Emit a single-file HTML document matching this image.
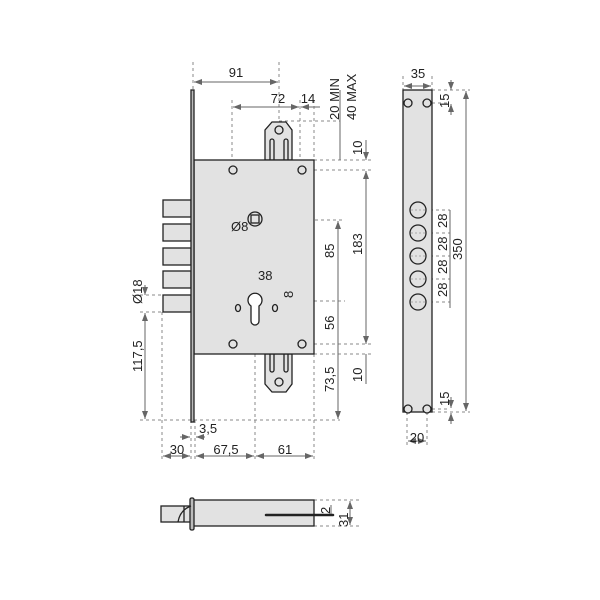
<!DOCTYPE html>
<html><head><style>body{margin:0;background:#fff}svg{display:block}text{font-family:"Liberation Sans",sans-serif;font-size:13px;fill:#222}</style></head>
<body>
<svg width="600" height="600" viewBox="0 0 600 600" xmlns="http://www.w3.org/2000/svg">
<defs>
<marker id="a" viewBox="0 0 8 6" refX="8" refY="3" markerWidth="8" markerHeight="6" orient="auto-start-reverse"><path d="M0,0L8,3L0,6z" fill="#666"/></marker>
</defs>
<g fill="none" stroke="#888" stroke-width="1" stroke-dasharray="3,3">
<line x1="193" y1="62" x2="193" y2="90"/>
<line x1="279" y1="62" x2="279" y2="121"/>
<line x1="232" y1="100" x2="232" y2="170"/>
<line x1="300" y1="100" x2="300" y2="170"/>
<line x1="314" y1="100" x2="314" y2="160"/>
<line x1="279" y1="121" x2="340" y2="121"/>
<line x1="314" y1="160" x2="372" y2="160"/>
<line x1="302" y1="170" x2="372" y2="170"/>
<line x1="255" y1="220" x2="342" y2="220"/>
<line x1="255" y1="210" x2="255" y2="460"/>
<line x1="238" y1="275" x2="238" y2="308"/>
<line x1="275" y1="275" x2="275" y2="308"/>
<line x1="248" y1="301" x2="345" y2="301"/>
<line x1="240" y1="308" x2="295" y2="308"/>
<line x1="302" y1="344" x2="372" y2="344"/>
<line x1="314" y1="354" x2="372" y2="354"/>
<line x1="140" y1="420" x2="340" y2="420"/>
<line x1="140" y1="295" x2="162" y2="295"/>
<line x1="140" y1="312" x2="162" y2="312"/>
<line x1="162" y1="312" x2="162" y2="460"/>
<line x1="191" y1="420" x2="191" y2="460"/>
<line x1="195" y1="420" x2="195" y2="460"/>
<line x1="314" y1="354" x2="314" y2="460"/>
<line x1="403" y1="76" x2="403" y2="90"/><line x1="432" y1="76" x2="432" y2="90"/>
<line x1="432" y1="90" x2="470" y2="90"/><line x1="432" y1="412" x2="470" y2="412"/>
<line x1="432" y1="103" x2="450" y2="103"/><line x1="432" y1="409" x2="450" y2="409"/>
<line x1="407" y1="412" x2="407" y2="445"/><line x1="427" y1="412" x2="427" y2="445"/>
<line x1="418" y1="210" x2="450" y2="210"/><line x1="418" y1="233" x2="450" y2="233"/>
<line x1="418" y1="256" x2="450" y2="256"/><line x1="418" y1="279" x2="450" y2="279"/>
<line x1="418" y1="302" x2="450" y2="302"/>
<line x1="418" y1="200" x2="418" y2="312"/>
<line x1="314" y1="500" x2="360" y2="500"/><line x1="314" y1="526" x2="360" y2="526"/>
<line x1="314" y1="500" x2="314" y2="526"/>
</g>
<g stroke="#666" stroke-width="1" fill="none">
<line x1="194" y1="82" x2="278" y2="82" marker-start="url(#a)" marker-end="url(#a)"/>
<line x1="233" y1="107" x2="299" y2="107" marker-start="url(#a)" marker-end="url(#a)"/>
<line x1="301" y1="107" x2="320" y2="107" marker-start="url(#a)"/>
<line x1="340" y1="90" x2="340" y2="160"/>
<line x1="366" y1="140" x2="366" y2="160" marker-end="url(#a)"/>
<line x1="366" y1="171" x2="366" y2="344" marker-start="url(#a)" marker-end="url(#a)"/>
<line x1="338" y1="221" x2="338" y2="419" marker-start="url(#a)" marker-end="url(#a)"/>
<line x1="366" y1="354" x2="366" y2="384"/>
<line x1="145" y1="285" x2="145" y2="295" marker-end="url(#a)"/>
<line x1="145" y1="313" x2="145" y2="419" marker-start="url(#a)" marker-end="url(#a)"/>
<line x1="180" y1="437" x2="190" y2="437" marker-end="url(#a)"/>
<line x1="196" y1="437" x2="205" y2="437" marker-start="url(#a)"/>
<line x1="163" y1="456" x2="190" y2="456" marker-start="url(#a)" marker-end="url(#a)"/>
<line x1="196" y1="456" x2="254" y2="456" marker-start="url(#a)" marker-end="url(#a)"/>
<line x1="256" y1="456" x2="313" y2="456" marker-start="url(#a)" marker-end="url(#a)"/>
<line x1="243" y1="227" x2="268" y2="227" marker-end="url(#a)"/>
<line x1="239" y1="282" x2="274" y2="282" marker-start="url(#a)" marker-end="url(#a)"/>
<line x1="297" y1="288" x2="297" y2="300" marker-end="url(#a)"/>
<line x1="297" y1="309" x2="297" y2="316" marker-start="url(#a)"/>
<line x1="404" y1="86" x2="431" y2="86" marker-start="url(#a)" marker-end="url(#a)"/>
<line x1="451" y1="80" x2="451" y2="90" marker-end="url(#a)"/>
<line x1="451" y1="104" x2="451" y2="115" marker-start="url(#a)"/>
<line x1="466" y1="91" x2="466" y2="411" marker-start="url(#a)" marker-end="url(#a)"/>
<line x1="451" y1="397" x2="451" y2="408" marker-end="url(#a)"/>
<line x1="451" y1="413" x2="451" y2="424" marker-start="url(#a)"/>
<line x1="450" y1="210" x2="450" y2="308"/>
<line x1="408" y1="441" x2="426" y2="441" marker-start="url(#a)" marker-end="url(#a)"/>
<line x1="350" y1="501" x2="350" y2="525" marker-start="url(#a)" marker-end="url(#a)"/>
<line x1="331" y1="505" x2="331" y2="516"/>
</g>
<g stroke="#222" stroke-width="1.3" fill="#e2e2e2">
<rect x="163" y="200" width="28" height="17"/>
<rect x="163" y="224" width="28" height="17"/>
<rect x="163" y="248" width="28" height="17"/>
<rect x="163" y="271" width="28" height="17"/>
<rect x="163" y="295" width="28" height="17"/>
<path d="M265,160 V130 L272,122 H286 L292,130 V160 Z"/>
<path d="M265,354 V384 L272,392 H286 L292,384 V354 Z"/>
<rect x="194" y="160" width="120" height="194"/>
<rect x="191" y="90" width="3" height="332" fill="#bbb"/>
<path d="M270,160 V141 a2,2 0 0 1 4,0 V160 M284,160 V141 a2,2 0 0 1 4,0 V160" fill="none"/>
<path d="M270,354 V370 a2,2 0 0 0 4,0 V354 M284,354 V370 a2,2 0 0 0 4,0 V354" fill="none"/>
<circle cx="279" cy="130" r="4"/><circle cx="279" cy="382" r="4"/>
<circle cx="233" cy="170" r="4"/><circle cx="302" cy="170" r="4"/>
<circle cx="233" cy="344" r="4"/><circle cx="302" cy="344" r="4"/>
<circle cx="255" cy="219" r="7"/><rect x="251" y="215" width="8" height="8"/>
<path d="M251,306 a7,7 0 1 1 8,0 V321 a4,4 0 0 1 -8,0 Z" fill="#fff"/>
<ellipse cx="238" cy="308" rx="2.5" ry="3.5"/><ellipse cx="275" cy="308" rx="2.5" ry="3.5"/>
<rect x="403" y="90" width="29" height="322"/>
<circle cx="408" cy="103" r="4"/><circle cx="427" cy="103" r="4"/>
<circle cx="408" cy="409" r="4"/><circle cx="427" cy="409" r="4"/>
<circle cx="418" cy="210" r="8"/><circle cx="418" cy="233" r="8"/><circle cx="418" cy="256" r="8"/><circle cx="418" cy="279" r="8"/><circle cx="418" cy="302" r="8"/>
<rect x="161" y="506" width="30" height="16"/>
<rect x="193" y="500" width="121" height="26"/>
<rect x="190" y="498" width="4" height="32" rx="1.5" fill="#bbb"/>
<path d="M178,522 Q180,510 191,506 M184,506 V522" fill="none"/>
<path d="M266,515 H333" stroke-width="2.5" stroke-linecap="round" fill="none"/>
</g>
<g fill="none" stroke="#999" stroke-width="0.8" stroke-dasharray="2,2">
<path d="M411,210H425M411,233H425M411,256H425M411,279H425M411,302H425"/>
</g>
<g>
<text x="236" y="77" text-anchor="middle">91</text>
<text x="278" y="103" text-anchor="middle">72</text>
<text x="308" y="103" text-anchor="middle">14</text>
<text transform="translate(339,120) rotate(-90)">20 MIN</text>
<text transform="translate(356,120) rotate(-90)">40 MAX</text>
<text transform="translate(362,155) rotate(-90)">10</text>
<text transform="translate(362,255) rotate(-90)">183</text>
<text transform="translate(334,258) rotate(-90)">85</text>
<text transform="translate(334,330) rotate(-90)">56</text>
<text transform="translate(334,392) rotate(-90)">73,5</text>
<text transform="translate(362,382) rotate(-90)">10</text>
<text x="231" y="231">Ø8</text>
<text x="258" y="280">38</text>
<text transform="translate(293,298) rotate(-90)">8</text>
<text transform="translate(142,304) rotate(-90)">Ø18</text>
<text transform="translate(142,372) rotate(-90)">117,5</text>
<text x="199" y="433">3,5</text>
<text x="177" y="454" text-anchor="middle">30</text>
<text x="226" y="454" text-anchor="middle">67,5</text>
<text x="285" y="454" text-anchor="middle">61</text>
<text x="418" y="78" text-anchor="middle">35</text>
<text transform="translate(449,108) rotate(-90)">15</text>
<text transform="translate(462,260) rotate(-90)">350</text>
<text transform="translate(447,228) rotate(-90)">28</text>
<text transform="translate(447,251) rotate(-90)">28</text>
<text transform="translate(447,274) rotate(-90)">28</text>
<text transform="translate(447,297) rotate(-90)">28</text>
<text transform="translate(449,406) rotate(-90)">15</text>
<text x="417" y="442" text-anchor="middle">20</text>
<text transform="translate(330,514) rotate(-90)">2</text>
<text transform="translate(348,527) rotate(-90)">31</text>
</g>
</svg>
</body></html>
